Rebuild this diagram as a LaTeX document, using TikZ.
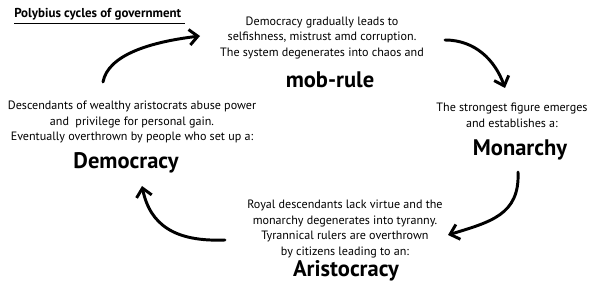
\documentclass[tikz,border=0pt]{standalone}
\usepackage{fontspec}
\setmainfont{PT Sans}
\usetikzlibrary{positioning, arrows.meta, calc}

\begin{document}
\begin{tikzpicture}[x=0.25mm, y=-0.25mm,
    txt/.style={align=center, inner sep=0pt, font=\fontsize{8.6}{11.3}\selectfont},
    gov/.style={inner sep=0pt, font=\fontsize{16}{18}\selectfont\bfseries},
    cycle/.style={line width=2.1pt, line cap=round,
                  -{Straight Barb[length=6pt, width=11pt, line width=2.1pt]}}]
    \useasboundingbox (0,0) rectangle (600,287);
    % title
    \node[inner sep=0pt, anchor=west, font=\fontsize{9.2}{10}\selectfont\bfseries]
      (title) at (14,14) {Polybius cycles of government};
    \draw[line width=1pt] ($(title.south west)+(0,3)$) -- ($(title.south east)+(4,3)$);
    % top
    \node[txt] (mobtxt) at (322,38) {Democracy gradually leads to\\
      selfishness, mistrust amd corruption.\\The system degenerates into chaos and};
    \node[gov] (mob) at (330,80) {mob-rule};
    % right
    \node[txt] (montxt) at (512,115) {The strongest figure emerges\\and establishes a:};
    \node[gov] (mon) at (520,150) {Monarchy};
    % bottom
    \node[txt] (aristxt) at (345,229) {Royal descendants lack virtue and the\\
      monarchy degenerates into tyranny.\\Tyrannical rulers are overthrown\\
      by citizens leading to an:};
    \node[gov] (aris) at (346,271) {Aristocracy};
    % left
    \node[txt] (demtxt) at (132,122) {Descendants of wealthy aristocrats abuse power\\
      and~ privilege for personal gain.\\Eventually overthrown by people who set up a:};
    \node[gov] (dem) at (126,163) {Democracy};
    % arrow ends
    \coordinate (a1) at (103,82);  \coordinate (b1) at (200,36);
    \coordinate (a2) at (445,40);  \coordinate (b2) at (505,88);
    \coordinate (a3) at (518,172); \coordinate (b3) at (448,235);
    \coordinate (a4) at (225,240); \coordinate (b4) at (142,186);
    \draw[cycle] (a1) .. controls (108,55) and (150,42) .. (b1);
    \draw[cycle] (a2) .. controls (475,40) and (495,60) .. (b2);
    \draw[cycle] (a3) .. controls (520,215) and (490,222) .. (b3);
    \draw[cycle] (a4) .. controls (175,242) and (150,225) .. (b4);
\end{tikzpicture}
\end{document}
